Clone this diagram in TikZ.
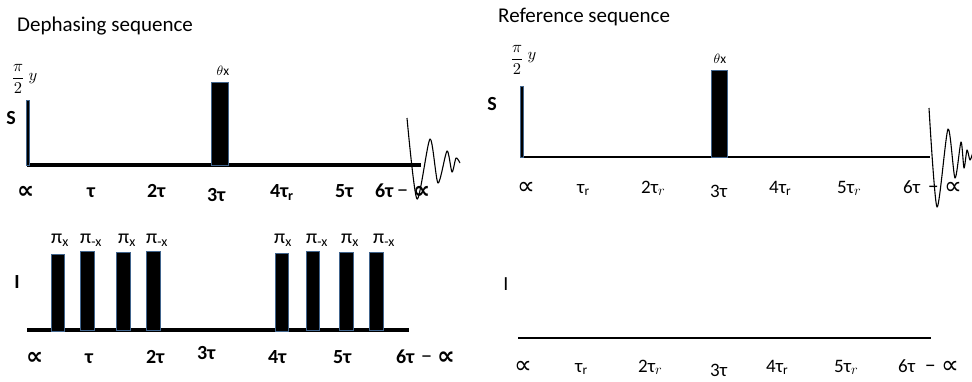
\documentclass[tikz,border=0pt]{standalone}
\usepackage{fontspec}
\setmainfont{Carlito}
\newfontfamily\dvs{DejaVu Sans}
\definecolor{pulseblue}{RGB}{65,100,140}
\newcommand{\prop}{{\dvs\fontsize{25}{28}\selectfont ∝}}
\newcommand{\propb}{{\dvs\bfseries\fontsize{24}{28}\selectfont ∝}}
\begin{document}
\begin{tikzpicture}[x=1pt,y=-1pt,
  pulsebox/.style={fill=black,draw=pulseblue,line width=1pt},
  thinpulse/.style={fill=black,draw=pulseblue,line width=0.8pt},
  baseL/.style={line width=4pt},
  baseR/.style={line width=2.6pt},
  fid/.style={line width=1.1pt,line join=round},
  title/.style={anchor=base west,inner sep=0pt,font=\fontsize{21}{25}\selectfont},
  lblL/.style={anchor=base west,inner sep=0pt,font=\fontsize{20}{24}\selectfont\bfseries},
  lblR/.style={anchor=base west,inner sep=0pt,font=\fontsize{19}{23}\selectfont},
  chan/.style={inner sep=0pt,font=\fontsize{20}{24}\selectfont\bfseries},
  theta/.style={inner sep=0pt,font=\normalsize,scale=1.35},
  frac/.style={inner sep=0pt,font=\normalsize,scale=1.65},
  pilbl/.style={anchor=base west,inner sep=0pt,font=\fontsize{20}{24}\selectfont},
]
\useasboundingbox (0,0) rectangle (972,381);

% ---------- Titles ----------
\node[title] (t1) at (17,31) {Dephasing sequence};
\node[title] (t2) at (498,22) {Reference sequence};

% ---------- Left S channel ----------
\node[chan] (SL) at (11,118) {S};
\draw[baseL] (27,165) -- (421,165);
\draw[thinpulse] (26,100) rectangle (29,165);
\draw[pulsebox] (211,82) rectangle (228,165);
\node[frac] (fL) at (18,79) {$\displaystyle\frac{\pi}{2}$};
\node[frac] (yL) at (33,79) {$y$};
\node[theta] (thL) at (223,71) {$\theta$x};
\draw[fid] plot[smooth,tension=0.45] coordinates {(407,118) (417,199) (430,139) (438,183) (447,151) (452,172) (456,158) (460,163)};

\node[lblL] (a1) at (17,198) {\propb};
\node[lblL] (a2) at (87,197) {τ};
\node[lblL] (a3) at (147,197) {2τ};
\node[lblL] (a4) at (207,201) {3τ};
\node[lblL] (a5) at (270,197) {4τ\textsubscript{r}};
\node[lblL] (a6) at (335,197) {5τ};
\node[lblL] (a7) at (375,197) {6τ};
\node[lblL,font=\fontsize{22}{24}\selectfont] (a8) at (397,197) {−};
\node[lblL] (a9) at (413,198) {\propb};

% ---------- Left I channel ----------
\node[chan] (IL) at (17,282) {I};
\draw[baseL] (27,330) -- (409,330);
\draw[pulsebox] (51,254) rectangle (64,331);
\draw[pulsebox] (80,251) rectangle (94,330);
\draw[pulsebox] (116,252) rectangle (130,330);
\draw[pulsebox] (146,251) rectangle (160,330);
\draw[pulsebox] (275,253) rectangle (288,331);
\draw[pulsebox] (306,251) rectangle (319,330);
\draw[pulsebox] (339,252) rectangle (353,330);
\draw[pulsebox] (369,252) rectangle (383,330);

\node[pilbl] (p1) at (51,243) {π\textsubscript{x}};
\node[pilbl] (p2) at (80,243) {π\textsubscript{-x}};
\node[pilbl] (p3) at (118,243) {π\textsubscript{x}};
\node[pilbl] (p4) at (146,243) {π\textsubscript{-x}};
\node[pilbl] (p5) at (274,243) {π\textsubscript{x}};
\node[pilbl] (p6) at (306,243) {π\textsubscript{-x}};
\node[pilbl] (p7) at (341,243) {π\textsubscript{x}};
\node[pilbl] (p8) at (373,243) {π\textsubscript{-x}};

\node[lblL] (b1) at (26,364) {\propb};
\node[lblL] (b2) at (85,363) {τ};
\node[lblL] (b3) at (146,363) {2τ};
\node[lblL] (b4) at (197,359) {3τ};
\node[lblL] (b5) at (268,363) {4τ};
\node[lblL] (b6) at (333,363) {5τ};
\node[lblL] (b7) at (396,363) {6τ};
\node[lblL,font=\fontsize{22}{24}\selectfont] (b8) at (421,363) {−};
\node[lblL] (b9) at (437,364) {\prop};

% ---------- Right S channel ----------
\node[chan] (SR) at (492,104) {S};
\draw[baseR] (520,157) -- (930,157);
\draw[thinpulse] (520,86) rectangle (523,157);
\draw[pulsebox] (711,70) rectangle (727,157);
\node[frac] (fR) at (517,60) {$\displaystyle\frac{\pi}{2}$};
\node[frac] (yR) at (532,58) {$y$};
\node[theta] (thR) at (720,59) {$\theta$x};
\draw[fid] plot[smooth,tension=0.45] coordinates {(929,108) (937,207) (948,129) (955,178) (961,142) (964,168) (967,150) (970,160) (973,152)};

\node[lblR] (c1) at (517,194) {\prop};
\node[lblR] (c2) at (577,193) {τ\textsubscript{r}};
\node[lblR] (c3) at (641,193) {2τ$_{r}$};
\node[lblR] (c4) at (710,197) {3τ};
\node[lblR] (c5) at (769,193) {4τ\textsubscript{r}};
\node[lblR] (c6) at (837,193) {5τ$_{r}$};
\node[lblR] (c7) at (903,193) {6τ};
\node[lblR,font=\fontsize{21}{23}\selectfont] (c8) at (928,193) {−};
\node[lblR] (c9) at (944,194) {\prop};

% ---------- Right I channel ----------
\node[chan,font=\fontsize{20}{24}\selectfont] (IR) at (506,284) {I};
\draw[baseR] (518,338) -- (931,338);

\node[lblR] (d1) at (514,373) {\prop};
\node[lblR] (d2) at (575,372) {τ\textsubscript{r}};
\node[lblR] (d3) at (638,372) {2τ$_{r}$};
\node[lblR] (d4) at (710,376) {3τ};
\node[lblR] (d5) at (766,372) {4τ\textsubscript{r}};
\node[lblR] (d6) at (834,372) {5τ$_{r}$};
\node[lblR] (d7) at (898,372) {6τ};
\node[lblR,font=\fontsize{21}{23}\selectfont] (d8) at (925,372) {−};
\node[lblR] (d9) at (941,373) {\prop};
\end{tikzpicture}
\end{document}
